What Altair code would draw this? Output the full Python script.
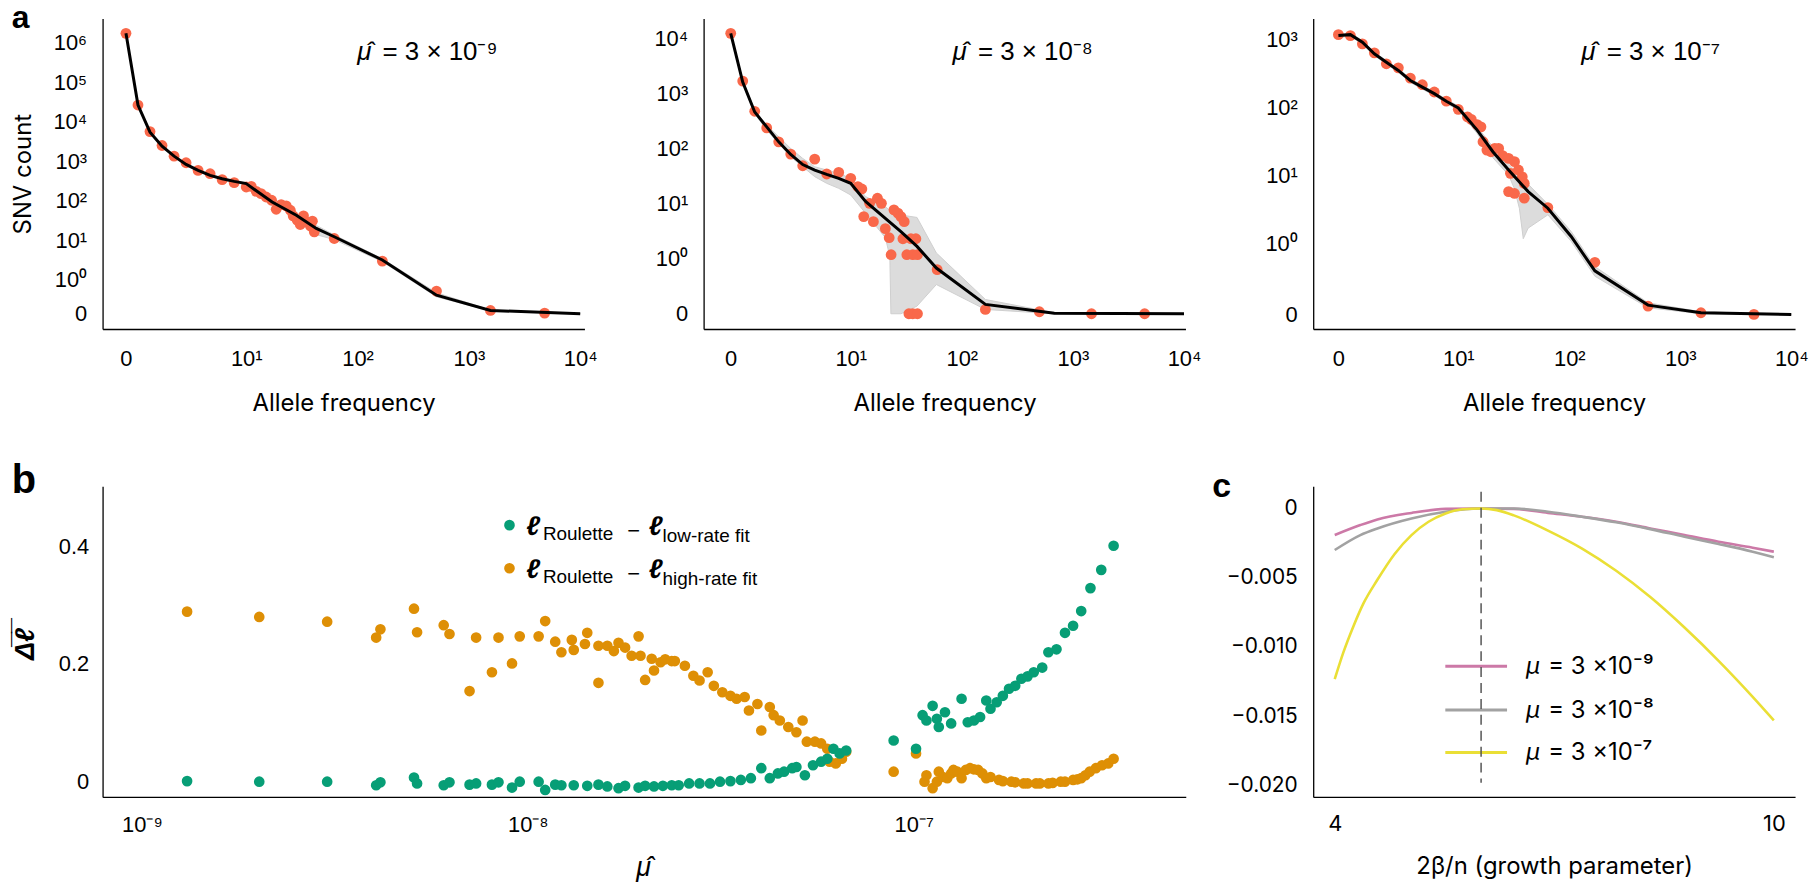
import altair as alt
import pandas as pd

# ---------------------------------------------------------------- colours / fonts
RED = "#F9684A"
GREEN = "#079E76"
ORANGE = "#DE8F05"
PINK = "#CC79A7"
GREY = "#A2A2A2"
YELLOW = "#EADF35"
BAND = "#DCDCDC"
TICK_FONT = "Liberation Sans"
TEXT_FONT = "Inter"

# ---------------------------------------------------------------- panel a data
a_xtick_labels = ["0", "10¹", "10²", "10³", "10⁴"]
a_ytick_labels = ["0", "10⁰", "10¹", "10²", "10³", "10⁴", "10⁵", "10⁶"]
a_titles = ["μ̂", "μ̂", "μ̂"]
a_rates = ["= 3 × 10⁻⁹", "= 3 × 10⁻⁸", "= 3 × 10⁻⁷"]

# observed SFS (allele frequency, SNV count)
a1_dots = [(0, 1.75e6), (1, 2.68e4), (2, 5700), (3, 2530), (4, 1360), (5, 925), (6, 593),
           (7, 489), (8, 345), (9, 290), (10, 225), (11.1, 234), (12.3, 175), (13.6, 153),
           (15.1, 126), (16.9, 104), (18.6, 61.6), (20.6, 81), (22.9, 75), (24.9, 58),
           (26.4, 41.9), (28.7, 32.6), (30.6, 25.3), (32.7, 41.9), (34.7, 29.6), (37.7, 23.4),
           (40.9, 16.5), (39.3, 30.7), (61.8, 11.2), (167, 3.0), (512, 0.67), (1563, 0.098),
           (4790, 0.02)]
a1_fit_x = [0, 1, 2, 3, 4, 5, 6, 7, 8, 9, 10, 17.1, 28.2, 42.6, 61.8, 167, 512, 1563, 10000]
a1_fit_y = [1.75e6, 2.68e4, 5500, 2440, 1360, 840, 593, 444, 366, 313, 274, 94, 43.5, 20.1,
            12.4, 3.19, 0.55, 0.098, 0]
a1_band_lo = [1.7e6, 2.6e4, 5300, 2350, 1300, 800, 565, 420, 345, 295, 258, 88, 39, 14, 10.5,
              2.9, 0.5, 0.085, 0]
a1_band_hi = [1.8e6, 2.76e4, 5700, 2530, 1420, 880, 620, 468, 388, 332, 290, 100, 48, 24, 13.8,
              3.45, 0.62, 0.11, 0.005]

a2_dots = [(0, 1.23e4), (1, 1670), (2, 473), (3, 236), (4, 132), (5, 79), (6, 48.6), (7, 64),
           (8, 34.4), (9, 36.8), (10, 28.7), (11.6, 20.3), (12.6, 18.4), (13.1, 5.8),
           (14.8, 10.1), (16.0, 4.7), (17.4, 12.5), (18.9, 10.1), (20.5, 3.5), (22.2, 2.4),
           (23.1, 1.18), (24.5, 7.7), (26.6, 6.7), (28.3, 5.8), (30.3, 4.7), (29.5, 2.3),
           (32.0, 1.18), (34.8, 2.3), (36.2, 1.18), (38.6, 2.3), (39.9, 1.18), (33.4, 0),
           (36.2, 0), (39.9, 0), (60, 0.80), (163, 0.078), (499, 0.036), (1470, 0), (4420, 0)]
a2_fit_x = [0, 1, 2, 3, 4, 5, 6, 7, 8, 9, 10, 13.6, 20.5, 28.3, 39.5, 59, 163, 680, 10000]
a2_fit_y = [1.23e4, 1600, 460, 246, 132, 78, 51, 40.6, 33.9, 28.7, 23.3, 10.9, 5.4, 3.1, 1.67,
            0.83, 0.17, 0.01, 0]
a2_band_x = [0, 1, 2, 3, 4, 5, 6, 7, 8, 9, 10, 13.6, 20.5, 22.5, 23, 28.3, 39.5, 59, 163, 680,
             10000]
a2_band_hi = [1.23e4, 1718, 493, 264, 163, 100, 66, 46.6, 40.6, 35.3, 28.7, 13.4, 8.8, 7.5, 7.2,
              6.2, 5.6, 1.27, 0.259, 0.018, 0]
a2_band_lo = [1.23e4, 1600, 430, 214, 123, 70.7, 46.6, 30.8, 23.3, 18.9, 14.3, 6.7, 2.4, 1.1, 0,
              0, 0.139, 0.53, 0.078, 0, 0]

a3_dots = [(0, 1197), (1, 1159), (2, 873), (3, 644), (4, 444), (5, 387), (6, 273), (7, 218),
           (8, 170), (9, 125), (10, 94.4), (12.1, 73), (13.1, 67), (14.8, 56), (16.0, 52),
           (16.7, 31.3), (18.1, 23.6), (19.7, 22.3), (21.3, 25), (23.1, 25), (25.1, 19.5),
           (28.4, 17.8), (29.5, 10.7), (32.1, 15.9), (34.8, 12), (37.7, 9.5), (39.3, 7.6),
           (39.3, 4.6), (28.4, 5.75), (32.1, 5.4), (64.1, 3.34), (170, 0.73), (512, 0.116),
           (1535, 0.023), (4610, 0)]
a3_fit_x = [0, 1, 2, 3, 4, 5, 6, 7, 8, 9, 10, 14.8, 20.5, 28.4, 42.6, 64.1, 104, 170, 512, 1535,
            10000]
a3_fit_y = [1159, 1197, 925, 623, 469, 354, 252, 201, 161, 124, 99, 46.5, 22.3, 12, 5.75, 3.27,
            1.25, 0.61, 0.13, 0.023, 0]
a3_band_x = [0, 1, 2, 3, 4, 5, 6, 7, 8, 9, 10, 14.8, 20.5, 28.4, 32, 35.5, 38.5, 42.6, 64.1, 104,
             170, 512, 1535, 10000]
a3_band_hi = [1230, 1260, 975, 660, 495, 375, 268, 213, 171, 132, 106, 52, 26.4, 14.5, 12, 10.1,
              8.5, 7.4, 3.74, 1.48, 0.67, 0.163, 0.037, 0]
a3_band_lo = [1090, 1130, 875, 590, 440, 333, 236, 188, 151, 116, 92, 41.5, 18.2, 10.1, 6.4, 3.27,
              1.16, 1.66, 2.61, 1.06, 0.535, 0.093, 0.009, 0]

# ---------------------------------------------------------------- panel b data (log10 mu_hat, mean delta l)
b_xtick_values = [1e-9, 1e-8, 1e-7]
b_xtick_labels = ["10⁻⁹", "10⁻⁸", "10⁻⁷"]
b_ytick_values = [0, 0.2, 0.4]
b_legend_subs = ["low-rate fit", "high-rate fit"]

b_high_rate = [
    (-8.883, 0.289), (-8.696, 0.280), (-8.520, 0.272), (-8.393, 0.245), (-8.382, 0.259),
    (-8.295, 0.294), (-8.287, 0.254), (-8.218, 0.266), (-8.203, 0.251), (-8.151, 0.154),
    (-8.134, 0.245), (-8.093, 0.186), (-8.076, 0.245), (-8.041, 0.201), (-8.021, 0.247),
    (-7.972, 0.247), (-7.955, 0.273), (-7.929, 0.238), (-7.913, 0.220), (-7.886, 0.241),
    (-7.881, 0.224), (-7.852, 0.234), (-7.846, 0.253), (-7.817, 0.168), (-7.817, 0.231),
    (-7.794, 0.231), (-7.777, 0.222), (-7.765, 0.236), (-7.748, 0.228), (-7.731, 0.214),
    (-7.713, 0.247), (-7.708, 0.214), (-7.696, 0.173), (-7.679, 0.209), (-7.673, 0.189),
    (-7.656, 0.203), (-7.644, 0.208), (-7.627, 0.205), (-7.619, 0.205), (-7.593, 0.197),
    (-7.571, 0.180), (-7.555, 0.172), (-7.534, 0.186), (-7.518, 0.163), (-7.496, 0.152),
    (-7.475, 0.146), (-7.459, 0.141), (-7.438, 0.144), (-7.427, 0.121), (-7.405, 0.132),
    (-7.395, 0.087), (-7.373, 0.127), (-7.363, 0.113), (-7.347, 0.104), (-7.325, 0.093),
    (-7.304, 0.084), (-7.288, 0.104), (-7.277, 0.068), (-7.256, 0.068), (-7.240, 0.065),
    (-7.224, 0.056), (-7.218, 0.034), (-7.202, 0.031), (-7.186, 0.039), (-7.175, 0.051),
    (-7.052, 0.017), (-6.994, 0.048), (-6.972, 0.000), (-6.967, 0.011), (-6.951, -0.011),
    (-6.940, 0.000), (-6.935, 0.017), (-6.924, 0.008), (-6.913, 0.006), (-6.903, 0.014),
    (-6.897, 0.020), (-6.887, 0.017), (-6.876, 0.006), (-6.865, 0.020), (-6.854, 0.023),
    (-6.844, 0.021), (-6.833, 0.020), (-6.822, 0.014), (-6.812, 0.006), (-6.801, 0.008),
    (-6.779, 0.003), (-6.769, 0.001), (-6.747, 0.000), (-6.737, -0.001), (-6.715, -0.003),
    (-6.705, -0.003), (-6.683, -0.003), (-6.673, -0.003), (-6.651, -0.003), (-6.640, -0.002),
    (-6.619, 0.000), (-6.608, 0.000), (-6.587, 0.003), (-6.576, 0.004), (-6.566, 0.006),
    (-6.555, 0.011), (-6.544, 0.017), (-6.528, 0.023), (-6.512, 0.028), (-6.496, 0.031),
    (-6.482, 0.039)]

b_low_rate = [
    (-8.883, 0.001), (-8.696, 0.000), (-8.520, 0.000), (-8.393, -0.006), (-8.382, -0.001),
    (-8.295, 0.007), (-8.287, -0.003), (-8.218, -0.006), (-8.203, -0.001), (-8.151, -0.005),
    (-8.134, -0.003), (-8.093, -0.005), (-8.076, -0.001), (-8.041, -0.010), (-8.021, 0.000),
    (-7.972, 0.000), (-7.955, -0.014), (-7.929, -0.005), (-7.913, -0.006), (-7.881, -0.006),
    (-7.846, -0.007), (-7.817, -0.005), (-7.794, -0.008), (-7.765, -0.011), (-7.748, -0.007),
    (-7.713, -0.010), (-7.696, -0.007), (-7.673, -0.008), (-7.650, -0.007), (-7.627, -0.006),
    (-7.609, -0.006), (-7.582, -0.003), (-7.555, -0.003), (-7.528, -0.003), (-7.502, 0.000),
    (-7.475, 0.001), (-7.448, 0.003), (-7.422, 0.006), (-7.395, 0.023), (-7.373, 0.006),
    (-7.352, 0.014), (-7.336, 0.017), (-7.315, 0.023), (-7.304, 0.025), (-7.282, 0.011),
    (-7.261, 0.028), (-7.240, 0.034), (-7.224, 0.039), (-7.208, 0.056), (-7.192, 0.048),
    (-7.175, 0.053), (-7.052, 0.070), (-6.994, 0.056), (-6.977, 0.113), (-6.967, 0.104),
    (-6.951, 0.129), (-6.940, 0.107), (-6.935, 0.093), (-6.919, 0.118), (-6.903, 0.099),
    (-6.876, 0.141), (-6.860, 0.101), (-6.844, 0.104), (-6.828, 0.110), (-6.812, 0.138),
    (-6.801, 0.124), (-6.785, 0.135), (-6.769, 0.146), (-6.753, 0.158), (-6.737, 0.163),
    (-6.721, 0.175), (-6.705, 0.179), (-6.689, 0.186), (-6.667, 0.194), (-6.651, 0.220),
    (-6.630, 0.225), (-6.608, 0.253), (-6.587, 0.265), (-6.566, 0.290), (-6.542, 0.329),
    (-6.514, 0.360), (-6.482, 0.401)]

# ---------------------------------------------------------------- panel c data
c_xtick_values = [4, 10]
c_ytick_values = [0, -0.005, -0.010, -0.015, -0.020]
c_legend_labels = ["= 3 ×10⁻⁹", "= 3 ×10⁻⁸", "= 3 ×10⁻⁷"]
c_x_pink = [4.0, 4.35, 4.583, 5.049, 5.515, 5.981, 6.448, 6.914, 7.38, 7.846, 8.312, 8.779,
            9.245, 9.711, 10.0]
c_y_pink = [-0.00192, -0.0012, -0.00079, -0.00032, -0.00003, 0.0, -0.00003, -0.00032, -0.0006,
            -0.00096, -0.00144, -0.00192, -0.0024, -0.00283, -0.00312]
c_x_grey = [4.0, 4.35, 4.583, 5.049, 5.515, 5.981, 6.214, 6.448, 6.914, 7.38, 7.846, 8.312,
            8.779, 9.245, 9.711, 10.0]
c_y_grey = [-0.003, -0.00192, -0.00144, -0.00072, -0.00024, 0.0, 0.0, 0.0, -0.00024, -0.0006,
            -0.001, -0.00149, -0.00204, -0.00256, -0.00312, -0.00352]
c_x_yellow = [4.0, 4.117, 4.256, 4.396, 4.583, 4.816, 5.049, 5.282, 5.515, 5.748, 6.0, 6.214,
              6.448, 6.914, 7.38, 7.846, 8.312, 8.779, 9.245, 9.711, 10.0]
c_y_yellow = [-0.01233, -0.01041, -0.0085, -0.00682, -0.00515, -0.00330, -0.00192, -0.00096,
              -0.00036, -0.00005, 0.0, -0.00012, -0.0005, -0.0016, -0.0029, -0.0045, -0.0064,
              -0.0086, -0.0110, -0.0136, -0.0153]
c_best_x = [6.0]
c_best_top = [0.0012]
c_best_bottom = [-0.0198]

# ---------------------------------------------------------------- helpers
W, H = 484, 312
GAP_A12 = 119.7
GAP_A23 = 128.3
GAP_BC = 128
GAP_ROWS = 158
LEFT_EDGE = -91.3   # leftmost text edge relative to the first plot column


def tx_expr(f, lin):
    return f"datum.{f} <= 10 ? datum.{f} * {lin} / 10 : {lin} + log(datum.{f} / 10) / LN10"


def ty_expr(f, lin):
    return f"datum.{f} <= 1 ? datum.{f} * {lin} : {lin} + log(datum.{f}) / LN10"


def label_expr(vals, labels):
    expr = "'" + labels[len(vals) - 1] + "'"
    for i in range(len(vals) - 2, -1, -1):
        mid = (vals[i] + vals[i + 1]) / 2
        expr = f"datum.value < {mid:.12g} ? '{labels[i]}' : ({expr})"
    return expr


def txt(s, x, y, **kw):
    return (alt.Chart(pd.DataFrame({"s": [s]}))
            .mark_text(**kw)
            .encode(text="s:N", x=alt.value(x), y=alt.value(y)))


def a_panel(dots, fit_x, fit_y, band_x, band_lo, band_hi, lx, ly, xdom, ydom, ndec,
            ann_x, idx, ytitle=False, letter=False):
    xvals = [0.0] + [round(lx + k, 4) for k in range(4)]
    yvals = [0.0] + [round(ly + k, 4) for k in range(ndec + 1)]
    xaxis = alt.Axis(values=xvals, labelExpr=label_expr(xvals, a_xtick_labels),
                     title="Allele frequency", labelFont=TICK_FONT, labelFontSize=22,
                     labelPadding=20, titleFont=TEXT_FONT, titleFontSize=24,
                     titleFontWeight="normal", titleY=82, titleX=W / 2,
                     titleBaseline="alphabetic")
    ykw = dict(values=yvals, labelExpr=label_expr(yvals, a_ytick_labels), labelFont=TICK_FONT,
               labelFontSize=22, labelPadding=16)
    if ytitle:
        ykw.update(title="SNV count", titleFont=TEXT_FONT, titleFontSize=24,
                   titleFontWeight="normal", titleX=-72, titleY=H / 2,
                   titleBaseline="alphabetic")
    else:
        ykw.update(title="")
    X = alt.X("tx:Q", scale=alt.Scale(domain=xdom, nice=False, zero=False), axis=xaxis)
    Y = alt.Y("ty:Q", scale=alt.Scale(domain=ydom, nice=False, zero=False),
              axis=alt.Axis(**ykw))

    band = (alt.Chart(pd.DataFrame({"x": band_x, "lo": band_lo, "hi": band_hi}))
            .transform_calculate(tx=tx_expr("x", lx), ty=ty_expr("lo", ly),
                                 ty2=ty_expr("hi", ly))
            .mark_area(color=BAND, opacity=1, stroke="#CFCFCF", strokeWidth=1)
            .encode(x=X, y=Y, y2="ty2:Q"))
    pts = (alt.Chart(pd.DataFrame(dots, columns=["x", "y"]))
           .transform_calculate(tx=tx_expr("x", lx), ty=ty_expr("y", ly))
           .mark_circle(size=118, color=RED, opacity=1)
           .encode(x=X, y=Y))
    fit = (alt.Chart(pd.DataFrame({"x": fit_x, "y": fit_y}))
           .transform_calculate(tx=tx_expr("x", lx), ty=ty_expr("y", ly))
           .mark_line(color="black", strokeWidth=3)
           .encode(x=X, y=Y))
    layers = [band, pts, fit,
              txt(a_titles[idx], ann_x, 42, align="left", baseline="alphabetic",
                  font=TICK_FONT, fontSize=26, fontStyle="italic", color="black"),
              txt(a_rates[idx], ann_x + 25.5, 42, align="left", baseline="alphabetic",
                  font=TICK_FONT, fontSize=26, color="black")]
    if letter:
        layers.append(txt("a", LEFT_EDGE, 9.5, align="left", baseline="alphabetic",
                          font=TICK_FONT, fontSize=32, fontWeight=900, color="black"))
    return alt.layer(*layers).properties(width=W, height=H)


a1 = a_panel(a1_dots, a1_fit_x, a1_fit_y, a1_fit_x, a1_band_lo, a1_band_hi,
             1.08, 0.857, [-0.21, 4.118], [-0.386, 7.479], 6, 255.7, 0,
             ytitle=True, letter=True)
a2 = a_panel(a2_dots, a2_fit_x, a2_fit_y, a2_band_x, a2_band_lo, a2_band_hi,
             1.08, 1.0, [-0.244, 4.093], [-0.277, 5.361], 4, 250.0, 1)
a3 = a_panel(a3_dots, a3_fit_x, a3_fit_y, a3_band_x, a3_band_lo, a3_band_hi,
             1.08, 1.054, [-0.227, 4.114], [-0.216, 4.372], 3, 269.3, 2)

# ---------------------------------------------------------------- panel b
BW = 1088
bx = alt.X("mu:Q",
           scale=alt.Scale(type="log", domain=[7.907e-10, 5.070e-7], nice=False),
           axis=alt.Axis(values=b_xtick_values,
                         labelExpr=label_expr([-9, -8, -7], b_xtick_labels).replace(
                             "datum.value", "(log(datum.value) / LN10)"),
                         title="μ̂", titleFont=TICK_FONT, titleFontSize=27,
                         titleFontStyle="italic", titleFontWeight="normal",
                         titleY=79, titleX=BW * 0.499, titleBaseline="alphabetic",
                         labelFont=TICK_FONT, labelFontSize=22, labelPadding=18))
by = alt.Y("dl:Q", scale=alt.Scale(domain=[-0.0259, 0.502], nice=False, zero=False),
           axis=alt.Axis(values=b_ytick_values,
                         labelExpr="datum.value == 0 ? '0' : format(datum.value, '.1f')",
                         title="Δ̅ℓ̅", titleFont=TICK_FONT, titleFontSize=27,
                         titleFontStyle="italic", titleFontWeight="bold",
                         titleX=-69.5, titleY=H / 2 + 2, titleBaseline="alphabetic",
                         labelFont=TICK_FONT, labelFontSize=22, labelPadding=14))


def b_layer(points, color):
    return (alt.Chart(pd.DataFrame(points, columns=["logmu", "dl"]))
            .transform_calculate(mu="pow(10, datum.logmu)")
            .mark_circle(size=115, color=color, opacity=1)
            .encode(x=bx, y=by))


def b_legend(row, color, sub):
    dy = 43.3 * row
    dot = (alt.Chart(pd.DataFrame({"k": [0]}))
           .mark_circle(size=115, color=color, opacity=1)
           .encode(x=alt.value(408.7), y=alt.value(39 + dy)))
    ell = dict(align="left", baseline="alphabetic", font=TICK_FONT, fontSize=27,
               fontStyle="italic", fontWeight="bold", color="black")
    small = dict(align="left", baseline="alphabetic", font=TICK_FONT, fontSize=19,
                 color="black")
    return [dot,
            txt("ℓ", 425.5, 49 + dy, **ell),
            txt("Roulette", 442.3, 53.5 + dy, **small),
            txt("−", 527, 51.5 + dy, align="left", baseline="alphabetic", font=TICK_FONT,
                fontSize=22, color="black"),
            txt("ℓ", 548.5, 49 + dy, **ell),
            txt(sub, 562.5, 55.5 + dy, **small)]


b_layers = [b_layer(b_high_rate, ORANGE), b_layer(b_low_rate, GREEN)]
b_layers += b_legend(0, GREEN, b_legend_subs[0]) + b_legend(1, ORANGE, b_legend_subs[1])
b_layers.append(txt("b", LEFT_EDGE, 7, align="left", baseline="alphabetic", font=TICK_FONT,
                    fontSize=40, fontWeight=900, color="black"))
b = alt.layer(*b_layers).properties(width=BW, height=H)

# ---------------------------------------------------------------- panel c
cx = alt.X("x:Q", scale=alt.Scale(domain=[3.706, 10.29], nice=False, zero=False),
           axis=alt.Axis(values=c_xtick_values, format="d",
                         title="2β/n (growth parameter)", titleFont=TEXT_FONT,
                         titleFontSize=24, titleFontWeight="normal", titleY=77,
                         titleX=W / 2, titleBaseline="alphabetic",
                         labelFont=TEXT_FONT, labelFontSize=22, labelPadding=17))
cy = alt.Y("y:Q", scale=alt.Scale(domain=[-0.02083, 0.0016], nice=False, zero=False),
           axis=alt.Axis(values=c_ytick_values,
                         labelExpr="datum.value == 0 ? '0' : format(datum.value, '.3f')",
                         title="", labelFont=TEXT_FONT, labelFontSize=21, labelPadding=16))


def c_line(xs, ys, color):
    return (alt.Chart(pd.DataFrame({"x": xs, "y": ys}))
            .mark_line(color=color, strokeWidth=2.6, interpolate="monotone")
            .encode(x=cx, y=cy))


c_layers = [c_line(c_x_pink, c_y_pink, PINK), c_line(c_x_grey, c_y_grey, GREY),
            c_line(c_x_yellow, c_y_yellow, YELLOW)]
for i, (col, lab) in enumerate(zip([PINK, GREY, YELLOW], c_legend_labels)):
    yy = [180.7, 224.7, 267.3][i]
    c_layers.append(alt.Chart(pd.DataFrame({"k": [0]}))
                    .mark_rule(color=col, strokeWidth=3)
                    .encode(x=alt.value(132.7), x2=alt.value(194.7), y=alt.value(yy)))
    c_layers.append(txt("μ", 213.4, yy + 7.6, align="left", baseline="alphabetic",
                        font=TEXT_FONT, fontSize=24, fontStyle="italic", color="black"))
    c_layers.append(txt(lab, 236, yy + 7.6, align="left", baseline="alphabetic",
                        font=TEXT_FONT, fontSize=24, color="black"))
c_layers.append(alt.Chart(pd.DataFrame({"x": c_best_x, "y": c_best_top, "y2": c_best_bottom}))
                .mark_rule(color="#555555", strokeWidth=1.5, strokeDash=[10, 6])
                .encode(x=cx, y=cy, y2="y2:Q"))
c_layers.append(txt("c", -101.3, 11, align="left", baseline="alphabetic", font=TICK_FONT,
                    fontSize=34, fontWeight=900, color="black"))
c = alt.layer(*c_layers).properties(width=W, height=H)

# ---------------------------------------------------------------- layout
# nested concat groups count as zero-size with flush bounds, so their extent is
# added to the spacing that follows them
row1 = alt.hconcat(alt.hconcat(a1, a2, spacing=GAP_A12, bounds="flush"), a3,
                   spacing=W + GAP_A12 + W + GAP_A23, bounds="flush")
row2 = alt.hconcat(b, c, spacing=GAP_BC, bounds="flush")
chart = (alt.vconcat(row1, row2, spacing=H + GAP_ROWS, bounds="flush")
         .properties(padding={"left": 3, "top": -8.5, "right": 0, "bottom": 0})
         .configure_view(stroke=None)
         .configure_axis(grid=False, ticks=False, tickSize=0, domainColor="black",
                         domainWidth=1.3, labelColor="black", titleColor="black",
                         labelFlush=False, labelOverlap=False))

chart.save("out.html", embed_options={"renderer": "svg", "actions": False})
